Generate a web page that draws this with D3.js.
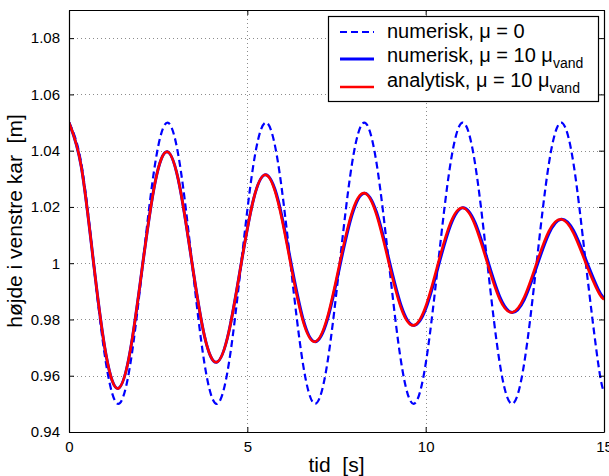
<!DOCTYPE html>
<html><head><meta charset="utf-8">
<script src="https://cdn.jsdelivr.net/npm/d3@7"></script>
<style>
html,body{margin:0;padding:0;background:#fff;}
svg{display:block;font-family:"Liberation Sans",Arial,Helvetica,sans-serif;}
</style></head>
<body>
<svg id="chart" width="609" height="476"></svg>
<script>
// Time samples (s)
const time = [0, 0.345, 0.69, 1.035, 1.38, 1.725, 2.07, 2.415, 2.76, 3.105, 3.45, 3.795, 4.14, 4.485, 4.83, 5.175,
  5.52, 5.865, 6.21, 6.555, 6.9, 7.245, 7.59, 7.935, 8.28, 8.625, 8.97, 9.315, 9.66, 10.005, 10.35, 10.695,
  11.04, 11.385, 11.73, 12.075, 12.42, 12.765, 13.11, 13.455, 13.8, 14.145, 14.49, 14.835, 15];
// numerisk, mu = 0
const numeriskMu0 = [1.05, 1.0354, 1.0, 0.9646, 0.95, 0.9646, 1.0, 1.0354,
  1.05, 1.0354, 1.0, 0.9646, 0.95, 0.9646, 1.0, 1.0354,
  1.05, 1.0354, 1.0, 0.9646, 0.95, 0.9646, 1.0, 1.0354,
  1.05, 1.0354, 1.0, 0.9646, 0.95, 0.9646, 1.0, 1.0354,
  1.05, 1.0354, 1.0, 0.9646, 0.95, 0.9646, 1.0, 1.0354,
  1.05, 1.0354, 1.0, 0.9646, 0.9541];
// numerisk, mu = 10 mu_vand
const numeriskMu10 = [1.05, 1.0343, 1.0, 0.9676, 0.9555, 0.9694, 1.0, 1.0288,
  1.0396, 1.0272, 1.0, 0.9743, 0.9648, 0.9758, 1.0, 1.0228,
  1.0314, 1.0223, 1.0011, 0.9805, 0.9721, 0.9800, 0.9988, 1.0172,
  1.0249, 1.0180, 1.0013, 0.9848, 0.9779, 0.9839, 0.9987, 1.0134,
  1.0197, 1.0144, 1.0013, 0.9881, 0.9825, 0.9871, 0.9987, 1.0105,
  1.0156, 1.0116, 1.0013, 0.9908, 0.9876];
// analytisk, mu = 10 mu_vand
const analytiskMu10 = [1.05, 1.0343, 1.0, 0.9676, 0.9555, 0.9694, 1.0, 1.0288,
  1.0396, 1.0272, 1.0, 0.9743, 0.9648, 0.9758, 1.0, 1.0228,
  1.0314, 1.0215, 1.0, 0.9797, 0.9721, 0.9808, 1.0, 1.0181,
  1.0249, 1.0171, 1.0, 0.9839, 0.9779, 0.9848, 1.0, 1.0143,
  1.0197, 1.0135, 1.0, 0.9872, 0.9825, 0.9880, 1.0, 1.0114,
  1.0156, 1.0107, 1.0, 0.9899, 0.9871];
const xTicks = [0, 5, 10, 15];
const yTicks = [0.94, 0.96, 0.98, 1.00, 1.02, 1.04, 1.06, 1.08];
const yTickLabels = ["0.94", "0.96", "0.98", "1", "1.02", "1.04", "1.06", "1.08"];
const xLabel = "tid  [s]";
const yLabel = "højde i venstre kar  [m]";

const svg = d3.select("#chart");
const L = 69, R = 604, T = 10, B = 432;
const x = d3.scaleLinear().domain([0, 15]).range([L, R]);
const y = d3.scaleLinear().domain([0.94, 1.09]).range([B, T]);

svg.append("defs").append("clipPath").attr("id", "clip")
  .append("rect").attr("x", L).attr("y", T).attr("width", R - L).attr("height", B - T);

// grid
const grid = svg.append("g").attr("stroke", "#8c8c8c").attr("stroke-width", 1).attr("stroke-dasharray", "1,3");
xTicks.filter(d => d > 0 && d < 15).forEach(d => {
  grid.append("line").attr("x1", Math.round(x(d)) + 0.5).attr("x2", Math.round(x(d)) + 0.5).attr("y1", B).attr("y2", T);
});
yTicks.filter(d => d > 0.94).forEach(d => {
  grid.append("line").attr("y1", Math.round(y(d)) + 0.5).attr("y2", Math.round(y(d)) + 0.5).attr("x1", L).attr("x2", R);
});

// series
const mk = vals => time.map((t, i) => [t, vals[i]]);
const line = d3.line().x(d => x(d[0])).y(d => y(d[1])).curve(d3.curveNatural);
const plot = svg.append("g").attr("clip-path", "url(#clip)");
plot.append("path").attr("d", line(mk(numeriskMu0))).attr("fill", "none")
  .attr("stroke", "#0000ff").attr("stroke-width", 2.2).attr("stroke-dasharray", "7,4");
plot.append("path").attr("d", line(mk(numeriskMu10))).attr("fill", "none")
  .attr("stroke", "#0000ff").attr("stroke-width", 3);
plot.append("path").attr("d", line(mk(analytiskMu10))).attr("fill", "none")
  .attr("stroke", "#ff0000").attr("stroke-width", 2.6);

// axes (box with inward ticks)
const axB = svg.append("g").attr("transform", `translate(0,${B})`)
  .call(d3.axisBottom(x).tickValues(xTicks).tickSizeInner(-5).tickSizeOuter(0).tickPadding(8).tickFormat(d3.format("d")));
const axT = svg.append("g").attr("transform", `translate(0,${T})`)
  .call(d3.axisTop(x).tickValues(xTicks).tickSizeInner(-5).tickSizeOuter(0).tickFormat(""));
const axL = svg.append("g").attr("transform", `translate(${L},0)`)
  .call(d3.axisLeft(y).tickValues(yTicks).tickSizeInner(-5).tickSizeOuter(0).tickPadding(9).tickFormat((d, i) => yTickLabels[i]));
const axR = svg.append("g").attr("transform", `translate(${R},0)`)
  .call(d3.axisRight(y).tickValues(yTicks).tickSizeInner(-5).tickSizeOuter(0).tickFormat(""));
[axB, axT, axL, axR].forEach(a => {
  a.select(".domain").attr("stroke", "#000").attr("stroke-width", 1.2);
  a.selectAll(".tick line").attr("stroke", "#000");
  a.selectAll("text").attr("font-size", 15).attr("fill", "#000").attr("font-family", "Liberation Sans, Arial, sans-serif");
});
axB.selectAll("text").attr("dy", "0.8em");

// labels
svg.append("text").attr("x", (L + R) / 2).attr("y", 472).attr("text-anchor", "middle")
  .attr("font-size", 21).attr("xml:space", "preserve").style("white-space", "pre").text(xLabel);
svg.append("text").attr("transform", `translate(22,${(T + B) / 2}) rotate(-90)`).attr("text-anchor", "middle")
  .attr("font-size", 21).style("white-space", "pre").text(yLabel);

// legend
const lg = svg.append("g");
lg.append("rect").attr("x", 328.5).attr("y", 16.5).attr("width", 270).attr("height", 85)
  .attr("fill", "#fff").attr("stroke", "#000").attr("stroke-width", 1.2);
const entries = [
  {main: "numerisk, μ = 0", sub: null, color: "#0000ff", dash: "7,4", ly: 32, ty: 38, w: 2.2},
  {main: "numerisk, μ = 10 μ", sub: "vand", color: "#0000ff", dash: null, ly: 59, ty: 62, w: 3},
  {main: "analytisk, μ = 10 μ", sub: "vand", color: "#ff0000", dash: null, ly: 87, ty: 87, w: 2.6}
];
entries.forEach(e => {
  lg.append("line").attr("x1", 340).attr("x2", 374).attr("y1", e.ly).attr("y2", e.ly)
    .attr("stroke", e.color).attr("stroke-width", e.w).attr("stroke-dasharray", e.dash);
  const t = lg.append("text").attr("x", 387).attr("y", e.ty).attr("font-size", 20);
  t.append("tspan").text(e.main);
  if (e.sub) t.append("tspan").attr("font-size", 14).attr("dy", 6).text(e.sub);
});
</script>
</body></html>
